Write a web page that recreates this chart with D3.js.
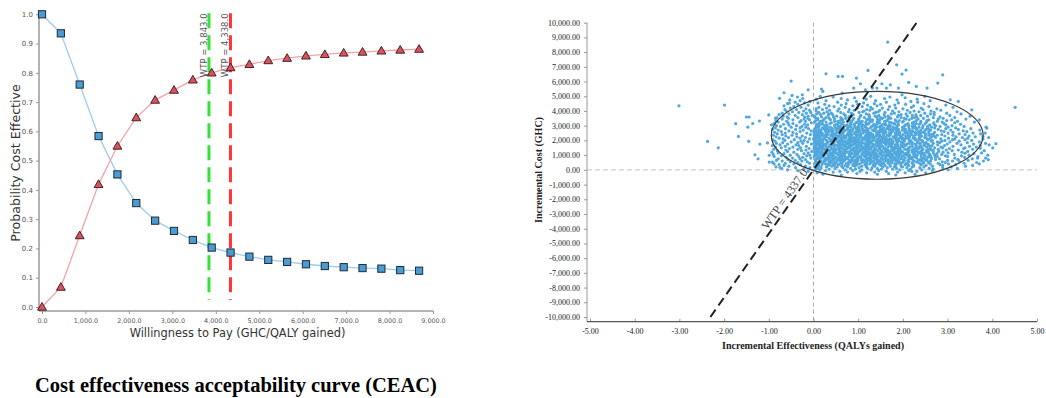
<!DOCTYPE html>
<html><head><meta charset="utf-8">
<script src="https://cdn.jsdelivr.net/npm/d3@7"></script>
<style>body{margin:0;background:#fff} svg{display:block}</style>
</head><body>
<svg id="c" width="1046" height="398"></svg>
<script>
// ---------- CEAC data ----------
const wtp = [0,434,868,1302,1736,2170,2604,3038,3472,3906,4340,4774,5208,5642,6076,6510,6944,7378,7812,8246,8680];
const probComparator = [1.0,0.935,0.76,0.584,0.453,0.355,0.295,0.26,0.229,0.203,0.186,0.172,0.161,0.154,0.146,0.140,0.136,0.133,0.131,0.126,0.124];
const probIntervention = [0.0,0.068,0.244,0.419,0.55,0.647,0.707,0.741,0.776,0.800,0.818,0.829,0.842,0.850,0.858,0.863,0.868,0.871,0.875,0.878,0.881];
const wtpMarkers = [3843, 4338];
const wtpMarkerLabels = ["WTP = 3,843.0", "WTP = 4,338.0"];
const ceacXTicks = [0,1000,2000,3000,4000,5000,6000,7000,8000,9000];
const ceacYTicks = [0,0.1,0.2,0.3,0.4,0.5,0.6,0.7,0.8,0.9,1.0];

// ---------- Cost-effectiveness plane data ----------
// rows: [incremental cost (GHC), incremental effectiveness values in hundredths of a QALY]
const scatterRows = [
[-350,"62 184"],[-300,"21 143 227"],[-250,"97 168"],[-200,"8 119 205 251"],[-150,"44 137 76 188"],
[-100,"-12 59 163 231 104"],[-50,"27 88 146 213 -35 266"],[0,"-58 14 71 129 193 242 108 301"],
[50,"35 -22 152 94 217 5 268 177"],[100,"-71 48 121 186 9 259 83 143 322"],
[150,"17 -40 102 238 66 165 209 131 289 -8"],[200,"-84 29 155 76 199 3 118 247 53 181 308 221"],
[250,"41 -18 137 93 224 12 172 63 266 196 108 -55 340"],[300,"7 88 -66 151 32 213 119 252 71 184 160 289 47 356"],
[350,"-29 56 134 19 205 97 241 171 -77 115 36 283 78 224 148 318"],
[400,"11 182 64 -44 239 126 90 27 153 210 261 -88 45 195 103 302 371 140"],
[450,"74 -9 138 51 221 167 3 246 95 188 34 119 279 -63 208 156 337 62"],
[500,"-35 22 109 157 83 234 40 199 128 -91 176 61 257 14 295 144 221 96 365"],
[550,"48 131 6 213 92 -52 170 247 35 115 192 66 288 150 -14 230 327 79 17"],
[600,"-70 38 143 99 262 184 5 225 68 121 -26 162 53 203 311 86 242 135 380 24"],
[650,"16 107 59 189 235 -41 82 148 28 254 175 114 -83 211 43 300 166 93 346 127"],
[700,"-18 71 155 36 222 96 180 4 251 129 63 201 -57 142 273 110 25 238 87 323 167"],
[750,"54 -79 119 11 195 77 243 160 33 139 217 100 -30 66 282 185 263 8 355 126 47"],
[800,"-47 87 27 172 231 123 58 205 -6 151 264 42 183 97 316 135 15 247 73 385 214"],
[850,"9 135 -61 76 220 162 32 106 255 191 50 -24 143 273 85 230 118 338 20 176 61"],
[900,"-88 63 198 115 13 241 154 91 37 179 -33 277 128 213 70 300 2 145 258 103 368 225"],
[950,"45 -15 126 188 81 229 20 168 249 59 113 -72 201 140 295 34 92 262 174 331 10"],
[1000,"-52 24 97 158 215 68 137 3 249 186 43 117 -8 271 81 209 163 348 56 232 129 390"],
[1050,"80 -37 150 6 193 122 260 39 176 95 224 61 -90 142 287 18 204 108 315 241 166"],
[1100,"-21 52 133 206 14 173 87 246 119 31 -66 195 152 276 70 227 99 359 40 184 258 7"],
[1150,"-79 37 112 181 66 236 3 148 93 211 -12 127 268 48 169 301 22 244 84 190 376 139"],
[1200,"18 -44 159 75 221 120 43 252 183 9 100 -93 200 136 290 57 164 234 332 27 111 212"],
[1250,"-4 95 170 29 240 132 62 197 -58 115 12 226 153 280 81 48 188 345 103 257 172 5"],
[1300,"71 -27 144 6 213 103 36 179 253 123 -81 90 268 58 161 231 19 310 195 135 382 46"],
[1350,"-62 30 117 193 85 264 151 9 220 50 137 -17 179 106 297 68 243 27 166 324 209 96"],
[1400,"42 -89 128 3 204 162 73 245 110 -35 191 25 138 279 89 224 57 356 175 118 13 257"],
[1450,"-10 66 183 21 139 98 235 -54 157 40 211 118 304 76 189 1 262 148 336 54 226 104"],
[1500,"-72 17 90 160 47 229 125 271 -29 194 8 147 82 242 113 181 339 31 214 62 289 137 401"],
[1550,"29 -46 111 182 60 215 4 148 253 95 -85 167 39 285 122 201 76 364 14 236 175 131"],
[1600,"-16 80 146 2 221 99 175 35 260 131 -63 57 198 117 312 22 240 154 71 349 187 106"],
[1650,"53 -92 124 12 189 84 230 153 36 265 107 -33 171 68 206 293 142 19 248 373 97 45"],
[1700,"-39 6 136 70 204 162 27 247 97 -75 183 117 278 48 220 144 330 88 15 196 257 63"],
[1750,"24 -58 94 168 39 227 122 -5 187 74 256 147 10 209 103 299 58 176 358 133 238 82"],
[1800,"-83 45 113 1 200 150 78 239 30 171 -24 127 268 92 214 57 321 161 19 385 250 106"],
[1850,"11 -35 129 66 187 96 252 16 159 221 -69 108 42 282 141 197 73 344 233 120 5 177"],
[1900,"-50 32 155 92 7 214 124 245 54 178 -13 146 277 102 20 197 63 305 164 232 371 85"],
[1950,"70 -86 16 141 203 100 38 233 169 -28 119 263 57 191 81 326 149 4 218 129 287 46"],
[2000,"-21 58 134 2 185 108 243 77 161 29 -64 216 124 294 47 152 90 203 354 12 266 176"],
[2050,"39 -43 96 174 21 227 142 64 256 113 -91 187 6 153 311 84 238 125 50 203 339 166"],
[2100,"-68 24 120 198 80 0 159 254 44 135 -9 213 101 285 62 171 228 14 316 145 190 379"],
[2150,"15 -30 146 70 223 110 35 182 261 91 -77 127 200 53 302 160 5 236 83 345 118 207"],
[2200,"-56 48 103 181 11 249 133 64 209 -18 162 88 273 25 194 120 333 73 226 153 2 392"],
[2250,"82 -84 29 138 197 58 239 -37 115 178 6 264 96 215 44 148 319 124 71 251 185 362"],
[2300,"-25 13 157 96 224 40 184 120 -62 270 68 140 206 20 294 106 169 54 242 348 80 131"],
[2350,"51 -48 117 2 193 149 74 236 26 165 -90 98 258 130 212 61 312 183 9 277 143 44"],
[2400,"-7 86 172 33 133 219 59 -70 250 104 187 15 157 287 79 228 125 40 339 200 5 264"],
[2450,"30 -38 106 192 66 142 10 239 171 -81 92 268 48 212 121 158 326 20 251 81 186 374"],
[2500,"-63 19 128 77 206 156 1 258 111 43 -15 183 232 94 301 63 147 218 28 357 170 122"],
[2550,"8 93 -46 162 52 227 118 193 31 271 -87 141 79 246 16 209 312 100 174 59 240"],
[2600,"-30 41 143 98 235 13 175 67 258 123 -72 204 152 292 35 84 222 111 343 186 2"],
[2650,"59 -5 114 190 26 249 87 160 -55 221 135 6 286 70 178 104 335 44 215 148"],
[2700,"-79 17 132 69 214 155 36 262 100 -23 186 118 51 240 169 307 82 199 3 372"],
[2750,"33 -40 96 174 12 231 137 58 279 110 -92 206 150 28 252 76 324 190 121"],
[2800,"-11 67 153 4 214 120 42 181 257 88 -63 139 296 24 229 164 102 352 53"],
[2850,"49 -30 109 170 20 244 138 76 202 -85 157 5 271 95 222 127 318 60 185"],
[2900,"-50 26 141 83 228 9 178 116 264 57 -17 199 148 301 38 99 236 386"],
[2950,"12 92 -74 167 60 213 130 255 31 187 -26 108 283 149 226 78 337"],
[3000,"-38 47 134 6 204 101 172 245 70 -83 152 25 273 116 221 55 310"],
[3050,"75 -13 161 30 226 110 190 -55 140 260 13 84 206 296 169 48"],
[3100,"-67 19 122 91 237 155 52 -20 182 270 8 135 212 103 329 64"],
[3150,"37 -46 102 180 63 250 144 -88 211 20 161 292 118 230 82"],
[3200,"-5 58 148 95 221 13 189 125 -57 269 40 175 316 106 240"],
[3250,"85 -31 28 170 117 253 67 -79 199 142 3 288 97 225 360"],
[3300,"-18 47 131 201 76 -60 240 159 16 109 277 185 54 322"],
[3350,"21 -84 102 164 60 230 126 -28 192 5 298 145 81 254"],
[3400,"-46 38 119 183 10 258 88 149 -9 214 65 309 132 371"],
[3450,"64 -21 143 24 207 101 279 -70 167 47 234 122 341"],
[3500,"-56 9 90 173 126 246 35 -13 203 154 72 290 220"],
[3550,"28 -35 114 196 61 268 150 -82 226 4 170 316"],
[3600,"-20 79 142 18 231 104 -59 188 45 283 160"],
[3650,"52 -68 125 210 2 167 84 255 -12 138 350"],
[3700,"-41 33 106 190 71 240 146 -3 305 221"],
[3750,"16 -77 158 89 229 43 196 -25 124 270"],
[3800,"-55 68 7 174 118 262 34 207 330"],
[3850,"40 -16 135 85 249 181 -70 23 298"],
[3900,"-33 102 12 216 160 61 270 -6 139"],
[3950,"78 -47 145 30 191 236 110 321"],
[4000,"-22 54 177 113 263 6 225 -61"],
[4050,"91 -9 148 36 210 285 126"],
[4100,"-38 20 167 80 245 119 -64"],
[4150,"57 132 -17 200 6 276"],
[4200,"-52 98 29 184 154 241"],
[4250,"12 71 -28 219 128 312"],
[4300,"-44 109 170 46 258"],
[4350,"35 -66 142 88 224"],
[4400,"-12 182 62 121 296"],
[4450,"99 -35 25 206 150"],
[4500,"-58 136 73 247"],
[4550,"10 190 -20 112"],
[4600,"54 163 -41 233"],
[4650,"-8 96 218"],
[4700,"139 28 -30 261"],
[4750,"76 187 -53"],
[4800,"6 118 232"],
[4850,"-24 159 62"],
[4900,"92 205"],
[4950,"-36 44 171"],
[5000,"128 15 249"]
];
// individual scattered points: [incremental effectiveness (QALY), incremental cost (GHC)]
const scatterOutliers = [
[-3.01,4350],[-1.99,4400],[-2.37,1930],[-2.13,1500],[-1.74,3140],[-1.68,2270],[-1.50,3590],[-1.44,3590],
[-1.47,2900],[-1.36,3150],[-1.21,3320],[-1.45,1940],[-1.20,1750],[-1.31,1020],[-1.24,750],[-1.00,3730],
[-1.03,1830],[-0.99,990],[-0.92,530],[-0.99,530],[-0.75,160],[-0.76,4860],[-0.66,5240],[-0.50,6030],
[-0.48,5060],[-0.54,4540],[-0.94,3060],[-0.85,3510],[1.66,8680],[1.86,7140],[2.07,6780],[1.22,6760],
[0.28,6530],[0.55,6350],[0.65,6350],[0.96,6240],[1.05,5850],[-0.12,5440],[0.18,5490],[0.21,5330],
[-0.25,5100],[1.32,5560],[1.42,5560],[1.53,5850],[1.72,5780],[1.63,5560],[0.90,5560],[0.64,5220],
[1.16,5440],[1.90,5560],[1.98,5100],[2.89,6460],[2.30,5670],[2.54,5560],[2.78,5900],[2.13,5940],
[4.51,4250],[3.54,4080],[3.88,2840],[4.08,1780],[3.91,690],[3.24,4650],[3.06,4760],[1.98,6510],
[3.93,1700],[3.84,2500],[3.67,800],[3.24,680],[3.39,1130],[3.73,1470],[3.79,2270],[2.20,-110]
];
const icerWTP = 4337;
const icerLabel = "WTP = 4337.0";
const ellipseCenter = [1.425, 2347];
const ellipseRadii = [2.37, 2985];
const planeXTicks = [-5,-4,-3,-2,-1,0,1,2,3,4,5];
const planeYTicks = [-10000,-9000,-8000,-7000,-6000,-5000,-4000,-3000,-2000,-1000,0,1000,2000,3000,4000,5000,6000,7000,8000,9000,10000];

// ---------- drawing ----------
const svg = d3.select("#c");
const sans = "'DejaVu Sans', Verdana, sans-serif";
const serif = "'Liberation Serif', 'Times New Roman', serif";

// ===== Left: CEAC =====
const x = d3.scaleLinear().domain([0, 9000]).range([42, 433]);
const y = d3.scaleLinear().domain([0, 1]).range([307, 14.3]);
const L = svg.append("g");

L.append("line").attr("x1",39).attr("x2",39).attr("y1",13).attr("y2",311).attr("stroke","#666").attr("stroke-width",1);
L.append("line").attr("x1",39).attr("x2",433).attr("y1",311).attr("y2",311).attr("stroke","#666").attr("stroke-width",1);

const yAx = L.append("g").attr("transform","translate(39,0)")
  .call(d3.axisLeft(y).tickValues(ceacYTicks).tickFormat(d3.format(".1f")).tickSize(3).tickPadding(3));
yAx.select(".domain").remove();
yAx.selectAll("line").attr("stroke","#999");
yAx.selectAll("text").attr("font-family",sans).attr("font-size",7).attr("fill","#555");

const xAx = L.append("g").attr("transform","translate(0,311)")
  .call(d3.axisBottom(x).tickValues(ceacXTicks).tickFormat(d3.format(",.1f")).tickSize(3).tickPadding(4));
xAx.select(".domain").remove();
xAx.selectAll("line").attr("stroke","#999");
xAx.selectAll("text").attr("font-family",sans).attr("font-size",6.4).attr("fill","#555");

L.append("text").attr("transform","translate(20,163) rotate(-90)").attr("text-anchor","middle")
  .attr("font-family",sans).attr("font-size",12.6).attr("fill","#333").text("Probability Cost Effective");
L.append("text").attr("x",237.5).attr("y",337).attr("text-anchor","middle")
  .attr("font-family",sans).attr("font-size",11.4).attr("fill","#333").text("Willingness to Pay (GHC/QALY gained)");

const wtpColors = ["#36e236", "#ff3434"];
wtpMarkers.forEach((v,i)=>{
  L.append("line").attr("x1",x(v)).attr("x2",x(v)).attr("y1",y(1.004)).attr("y2",y(0.024))
    .attr("stroke",wtpColors[i]).attr("stroke-width",3).attr("stroke-dasharray","15,7");
});

const lineGen = arr => d3.line().x((d,i)=>x(wtp[i])).y(d=>y(d))(arr);
L.append("path").attr("d",lineGen(probComparator)).attr("fill","none").attr("stroke","#9ccdec").attr("stroke-width",1.3);
L.append("path").attr("d",lineGen(probIntervention)).attr("fill","none").attr("stroke","#f4a3a8").attr("stroke-width",1.3);

L.selectAll(".sq").data(probComparator).join("rect")
  .attr("x",(d,i)=>x(wtp[i])-3.6).attr("y",d=>y(d)-3.6).attr("width",7.2).attr("height",7.2)
  .attr("fill","#4b9bd5").attr("stroke","#1e2a33").attr("stroke-width",1);
const tri = d3.symbol().type(d3.symbolTriangle).size(34);
L.selectAll(".tr").data(probIntervention).join("path")
  .attr("d",tri).attr("transform",(d,i)=>`translate(${x(wtp[i])},${y(d)+0.6})`)
  .attr("fill","#e0505c").attr("stroke","#2a1a1a").attr("stroke-width",0.9);

wtpMarkers.forEach((v,i)=>{
  L.append("text").attr("transform",`translate(${x(v)-2.2},${y(1.003)}) rotate(-90)`)
    .attr("text-anchor","end").attr("font-family",sans).attr("font-size",8.5).attr("fill","#555")
    .text(wtpMarkerLabels[i]);
});

svg.append("text").attr("x",35).attr("y",392).attr("font-family",serif).attr("font-weight","bold")
  .attr("font-size",20.5).attr("fill","#000").text("Cost effectiveness acceptability curve (CEAC)");

// ===== Right: CE plane =====
const x2 = d3.scaleLinear().domain([-5, 5]).range([590, 1037]);
const y2 = d3.scaleLinear().domain([-10000, 10000]).range([317, 22.7]);
const R = svg.append("g");
const fmt2 = d => d3.format(",.2f")(d).replace("\u2212","-");

R.append("line").attr("x1",587).attr("x2",1037).attr("y1",y2(0)).attr("y2",y2(0))
  .attr("stroke","#c4c4c4").attr("stroke-width",1).attr("stroke-dasharray","5,3");
R.append("line").attr("x1",x2(0)).attr("x2",x2(0)).attr("y1",y2(10000)).attr("y2",321.7)
  .attr("stroke","#a8a8a8").attr("stroke-width",1).attr("stroke-dasharray","4,3");

const y2Ax = R.append("g").attr("transform","translate(587,0)")
  .call(d3.axisLeft(y2).tickValues(planeYTicks).tickFormat(fmt2).tickSize(3).tickPadding(4));
y2Ax.select(".domain").remove();
y2Ax.selectAll("line").attr("stroke","#999");
y2Ax.selectAll("text").attr("font-family",serif).attr("font-size",8).attr("fill","#222");
R.append("line").attr("x1",587).attr("x2",587).attr("y1",y2(10000)).attr("y2",321.7).attr("stroke","#999");

const x2Ax = R.append("g").attr("transform","translate(0,321.7)")
  .call(d3.axisBottom(x2).tickValues(planeXTicks).tickFormat(fmt2).tickSizeInner(-3).tickSizeOuter(0).tickPadding(7));
x2Ax.select(".domain").remove();
x2Ax.selectAll("line").attr("stroke","#999");
x2Ax.selectAll("text").attr("font-family",serif).attr("font-size",8).attr("fill","#222");
R.append("line").attr("x1",587).attr("x2",1037).attr("y1",321.7).attr("y2",321.7).attr("stroke","#555").attr("stroke-width",1.2);

R.append("text").attr("x",813).attr("y",349).attr("text-anchor","middle").attr("font-family",serif)
  .attr("font-weight","bold").attr("font-size",10).attr("fill","#222").text("Incremental Effectiveness (QALYs gained)");
R.append("text").attr("transform","translate(542,170) rotate(-90)").attr("text-anchor","middle").attr("font-family",serif)
  .attr("font-weight","bold").attr("font-size",10).attr("fill","#222").text("Incremental Cost (GHC)");

const pts = [];
scatterRows.forEach(([c, s]) => s.split(" ").forEach(v => pts.push([+v / 100, c])));
scatterOutliers.forEach(p => pts.push(p));
R.append("g").selectAll("circle").data(pts).join("circle")
  .attr("cx",d=>x2(d[0])).attr("cy",d=>y2(d[1])).attr("r",1.6).attr("fill","#4fa7dd");

R.append("ellipse").attr("cx",x2(ellipseCenter[0])).attr("cy",y2(ellipseCenter[1]))
  .attr("rx",x2(ellipseCenter[0]+ellipseRadii[0])-x2(ellipseCenter[0]))
  .attr("ry",y2(ellipseCenter[1]-ellipseRadii[1])-y2(ellipseCenter[1]))
  .attr("fill","none").attr("stroke","#3a3a3a").attr("stroke-width",1.1);

R.append("line").attr("x1",x2(-10000/icerWTP)).attr("y1",y2(-10000))
  .attr("x2",x2(10000/icerWTP)).attr("y2",y2(10000))
  .attr("stroke","#222").attr("stroke-width",2).attr("stroke-dasharray","9,5");
const ang = Math.atan2(y2(icerWTP)-y2(0), x2(1)-x2(0))*180/Math.PI;
const c0 = -4213;
R.append("text").attr("transform",`translate(${x2(c0/icerWTP)},${y2(c0)}) rotate(${ang})`)
  .attr("dy",-3).attr("font-family",serif).attr("font-size",12).attr("fill","#444").text(icerLabel);
</script>
</body></html>
